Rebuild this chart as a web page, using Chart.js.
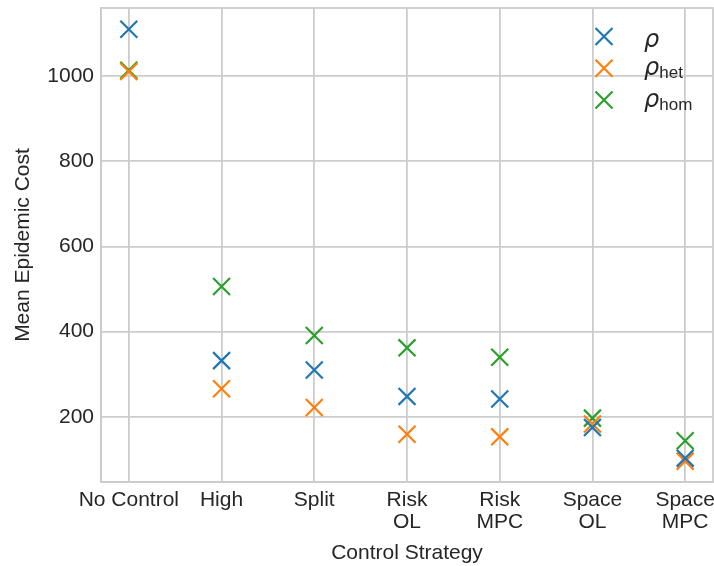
<!DOCTYPE html>
<html>
<head>
<meta charset="utf-8">
<script src="https://cdn.jsdelivr.net/npm/chart.js@4.4.1/dist/chart.umd.min.js"></script>
<style>
  html, body { margin: 0; padding: 0; background: #ffffff; }
  #wrap { width: 714px; height: 566px; }
</style>
</head>
<body>
<div id="wrap"><canvas id="c" width="714" height="566"></canvas></div>
<script>
// Control strategies on the x axis (multi-line labels)
const strategies = [
  ['No Control'], ['High'], ['Split'], ['Risk', 'OL'], ['Risk', 'MPC'], ['Space', 'OL'], ['Space', 'MPC']
];

// Mean epidemic cost for each measure
const rhoAll = [1110, 332, 310, 248, 242, 175, 103];
const rhoHet = [1011, 266, 222, 159, 153, 183, 96];
const rhoHom = [1014, 506, 391, 362, 340, 197, 144];

// Legend names: base symbol and subscript
const seriesBase = ['ρ', 'ρ', 'ρ'];
const seriesSub = ['', 'het', 'hom'];
const seriesColors = ['#1f77b4', '#ff7f0e', '#2ca02c'];

const yTicks = [200, 400, 600, 800, 1000];

const FONT = '"Liberation Sans", Arial, sans-serif';
const MATH = '"DejaVu Sans", sans-serif';
const TEXT = '#262626';
const GRID = '#cccccc';
const GRID_W = 1.8;

function toPoints(vals) {
  return vals.map((v, i) => ({ x: i, y: v }));
}

const datasets = [rhoAll, rhoHet, rhoHom].map((vals, k) => ({
  label: seriesBase[k] + seriesSub[k],
  data: toPoints(vals),
  pointStyle: 'crossRot',
  pointRadius: 12,
  pointHoverRadius: 12,
  pointBorderWidth: 2.2,
  borderColor: seriesColors[k],
  backgroundColor: seriesColors[k],
  showLine: false
}));

// Legend with subscripted labels, drawn inside the plot area
const subLegend = {
  id: 'subLegend',
  afterDraw(chart) {
    const ctx = chart.ctx;
    const mx = 604, tx = 644, y0 = 36.5, dy = 31.75, half = 8.5;
    ctx.save();
    for (let k = 0; k < seriesBase.length; k++) {
      const y = y0 + k * dy;
      ctx.strokeStyle = seriesColors[k];
      ctx.lineWidth = 2.2;
      ctx.beginPath();
      ctx.moveTo(mx - half, y - half); ctx.lineTo(mx + half, y + half);
      ctx.moveTo(mx - half, y + half); ctx.lineTo(mx + half, y - half);
      ctx.stroke();
      ctx.fillStyle = TEXT;
      ctx.textBaseline = 'alphabetic';
      ctx.textAlign = 'left';
      ctx.font = 'italic 24px ' + MATH;
      const base = seriesBase[k];
      const hasSub = !!seriesSub[k];
      ctx.fillText(base, tx, y + (hasSub ? 7 : 10));
      const w = ctx.measureText(base).width;
      if (hasSub) {
        ctx.font = '17px ' + FONT;
        ctx.fillText(seriesSub[k], tx + w, y + 10);
      }
    }
    ctx.restore();
  }
};

// Light frame around the plot area
const frame = {
  id: 'frame',
  afterDatasetsDraw(chart) {
    const { ctx, chartArea: a } = chart;
    ctx.save();
    ctx.strokeStyle = GRID;
    ctx.lineWidth = GRID_W;
    ctx.strokeRect(a.left, a.top, a.right - a.left, a.bottom - a.top);
    ctx.restore();
  }
};

function noEdgePadding(scale) {
  scale.paddingLeft = 0;
  scale.paddingRight = 0;
  scale.paddingTop = 0;
  scale.paddingBottom = 0;
}

new Chart(document.getElementById('c'), {
  type: 'scatter',
  data: { datasets },
  plugins: [frame, subLegend],
  options: {
    responsive: false,
    animation: false,
    clip: false,
    layout: { autoPadding: false, padding: { top: 8, right: 1, left: 0, bottom: 0 } },
    plugins: {
      legend: { display: false },
      tooltip: { enabled: false }
    },
    scales: {
      x: {
        type: 'linear',
        min: -0.3,
        max: 6.3,
        afterBuildTicks(scale) {
          scale.ticks = strategies.map((_, i) => ({ value: i }));
        },
        afterFit(scale) { scale.height = 84; noEdgePadding(scale); },
        ticks: {
          autoSkip: false,
          maxRotation: 0,
          padding: 7,
          color: TEXT,
          font: { family: FONT, size: 21, lineHeight: 1.05 },
          callback: (v) => strategies[v]
        },
        grid: { color: GRID, lineWidth: GRID_W, drawTicks: false },
        border: { display: true, color: GRID, width: GRID_W },
        title: {
          display: true,
          text: 'Control Strategy',
          color: TEXT,
          font: { family: FONT, size: 21 },
          padding: { top: 0, bottom: 0 }
        }
      },
      y: {
        min: 47,
        max: 1160,
        afterBuildTicks(scale) {
          scale.ticks = yTicks.map(v => ({ value: v }));
        },
        afterFit(scale) { scale.width = 101; noEdgePadding(scale); },
        ticks: {
          padding: 7,
          color: TEXT,
          font: { family: FONT, size: 21 },
          callback: (v) => String(v)
        },
        grid: { color: GRID, lineWidth: GRID_W, drawTicks: false },
        border: { display: true, color: GRID, width: GRID_W },
        title: {
          display: true,
          text: 'Mean Epidemic Cost',
          color: TEXT,
          font: { family: FONT, size: 21 },
          padding: { top: 11, bottom: 0 }
        }
      }
    }
  }
});
</script>
</body>
</html>
